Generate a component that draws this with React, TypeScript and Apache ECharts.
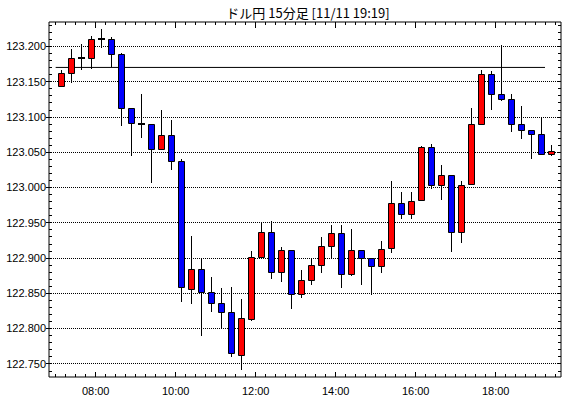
import React, { useEffect, useRef } from "react";
import * as echarts from "echarts";

const TITLE = "ドル円 15分足 [11/11 19:19]";

const TIMES = [
  "07:00", "07:15", "07:30", "07:45", "08:00", "08:15", "08:30", "08:45", "09:00", "09:15",
  "09:30", "09:45", "10:00", "10:15", "10:30", "10:45", "11:00", "11:15", "11:30", "11:45",
  "12:00", "12:15", "12:30", "12:45", "13:00", "13:15", "13:30", "13:45", "14:00", "14:15",
  "14:30", "14:45", "15:00", "15:15", "15:30", "15:45", "16:00", "16:15", "16:30", "16:45",
  "17:00", "17:15", "17:30", "17:45", "18:00", "18:15", "18:30", "18:45", "19:00", "19:15",
];

const OPEN = [
  123.143, 123.162, 123.184, 123.183, 123.211, 123.211, 123.189, 123.112, 123.090, 123.090,
  123.054, 123.074, 123.038, 122.856, 122.884, 122.852, 122.836, 122.823, 122.763, 122.814,
  122.902, 122.937, 122.880, 122.911, 122.849, 122.869, 122.890, 122.917, 122.935, 122.877,
  122.911, 122.900, 122.888, 122.914, 122.978, 122.962, 122.982, 123.057, 123.003, 123.017,
  122.937, 123.005, 123.090, 123.160, 123.133, 123.125, 123.090, 123.081, 123.075, 123.047,
];
const CLOSE = [
  123.162, 123.184, 123.184, 123.210, 123.211, 123.189, 123.112, 123.091, 123.090, 123.054,
  123.074, 123.038, 122.859, 122.884, 122.852, 122.836, 122.823, 122.765, 122.815, 122.902,
  122.937, 122.880, 122.911, 122.849, 122.869, 122.890, 122.917, 122.935, 122.877, 122.911,
  122.900, 122.889, 122.913, 122.978, 122.962, 122.981, 123.057, 123.003, 123.017, 122.937,
  123.003, 123.090, 123.160, 123.133, 123.125, 123.090, 123.082, 123.075, 123.047, 123.051,
];
const LOW = [
  123.143, 123.148, 123.166, 123.168, 123.198, 123.170, 123.087, 123.044, 123.070, 123.006,
  123.054, 123.024, 122.838, 122.835, 122.790, 122.823, 122.799, 122.760, 122.741, 122.811,
  122.902, 122.870, 122.866, 122.827, 122.843, 122.862, 122.879, 122.900, 122.857, 122.875,
  122.862, 122.847, 122.879, 122.907, 122.955, 122.955, 122.982, 122.998, 122.982, 122.909,
  122.921, 123.005, 123.088, 123.109, 123.123, 123.079, 123.068, 123.040, 123.047, 123.044,
];
const HIGH = [
  123.166, 123.196, 123.203, 123.214, 123.224, 123.213, 123.191, 123.112, 123.132, 123.090,
  123.110, 123.095, 123.040, 122.931, 122.900, 122.873, 122.858, 122.859, 122.842, 122.910,
  122.949, 122.952, 122.916, 122.911, 122.883, 122.900, 122.930, 122.946, 122.947, 122.941,
  122.911, 122.900, 122.924, 123.009, 122.993, 122.993, 123.058, 123.062, 123.031, 123.017,
  123.009, 123.113, 123.167, 123.165, 123.202, 123.132, 123.116, 123.082, 123.099, 123.060,
];

// reference (horizontal) line
const REF_VALUE = 123.17;
const REF_FROM = "07:00";
const REF_TO = "19:14";

const Y_MIN = 122.7312;
const Y_MAX = 123.2344;
const Y_LABELS = [122.75, 122.8, 122.85, 122.9, 122.95, 123.0, 123.05, 123.1, 123.15, 123.2];

const X_MIN = "06:50";
const X_MAX = "19:38";
const X_LABELS = ["08:00", "10:00", "12:00", "14:00", "16:00", "18:00"];
const X_TICK_STEP_MIN = 15;
const Y_MINOR_STEP = 0.01;

const toMin = (s: string) => {
  const [h, m] = s.split(":").map(Number);
  return h * 60 + m;
};
const fmt = (v: number) => {
  const h = Math.floor(v / 60);
  const m = Math.round(v % 60);
  return String(h).padStart(2, "0") + ":" + String(m).padStart(2, "0");
};

export default function App() {
  const ref = useRef<HTMLDivElement>(null);
  useEffect(() => {
    if (!ref.current) return;
    const chart = echarts.init(ref.current, null, { renderer: "svg" });

    const xmin = toMin(X_MIN);
    const xmax = toMin(X_MAX);
    const xMinor: number[] = [];
    for (let t = toMin(TIMES[0]); t <= xmax; t += X_TICK_STEP_MIN) xMinor.push(t);
    const xMajor = X_LABELS.map(toMin);
    const yMinor: number[] = [];
    for (let k = Math.ceil(Y_MIN / Y_MINOR_STEP); k * Y_MINOR_STEP <= Y_MAX; k++) {
      yMinor.push(Math.round(k * Y_MINOR_STEP * 1000) / 1000);
    }

    const data = TIMES.map((t, i) => [toMin(t) + 7.5, OPEN[i], CLOSE[i], LOW[i], HIGH[i]]);

    const labelFont = {
      fontFamily: "'Liberation Sans', sans-serif",
      fontSize: 11,
      color: "#000",
    };

    const xBase = {
      type: "value" as const,
      min: xmin,
      max: xmax,
      axisLine: { show: false },
      splitLine: { show: false },
    };
    const yBase = {
      type: "value" as const,
      min: Y_MIN,
      max: Y_MAX,
      axisLine: { show: false },
      splitLine: { show: false },
    };

    chart.setOption({
      animation: false,
      backgroundColor: "#fff",
      graphic: [
        {
          type: "text",
          x: 308,
          y: 6,
          style: {
            text: TITLE,
            fill: "#000",
            font: "13px 'Noto Sans CJK JP', sans-serif",
            align: "center",
            verticalAlign: "top",
          },
        },
      ],
      grid: {
        left: 49,
        right: 9,
        top: 22,
        bottom: 21,
        show: true,
        borderColor: "#000",
        borderWidth: 1,
        backgroundColor: "#fff",
      },
      xAxis: [
        {
          ...xBase,
          position: "bottom",
          axisTick: { show: true, inside: true, length: 5, customValues: xMajor, lineStyle: { color: "#000" } },
          axisLabel: { show: true, customValues: xMajor, formatter: (v: number) => fmt(v), margin: 8, ...labelFont },
        },
        {
          ...xBase,
          position: "bottom",
          offset: 0,
          axisTick: { show: true, inside: true, length: 3, customValues: xMinor, lineStyle: { color: "#000" } },
          axisLabel: { show: false },
        },
        {
          ...xBase,
          position: "top",
          axisTick: { show: true, inside: true, length: 6, customValues: xMajor, lineStyle: { color: "#000" } },
          axisLabel: { show: false },
        },
        {
          ...xBase,
          position: "top",
          offset: 0,
          axisTick: { show: true, inside: true, length: 3, customValues: xMinor, lineStyle: { color: "#000" } },
          axisLabel: { show: false },
        },
      ],
      yAxis: [
        {
          ...yBase,
          position: "left",
          axisTick: { show: true, inside: false, length: 3, customValues: Y_LABELS, lineStyle: { color: "#000" } },
          axisLabel: { show: true, customValues: Y_LABELS, formatter: (v: number) => v.toFixed(3), margin: 3, ...labelFont },
          splitLine: { show: true, lineStyle: { color: "#000", width: 1, type: [1, 1] } },
        },
        {
          ...yBase,
          position: "left",
          offset: 0,
          axisTick: { show: true, inside: true, length: 3, customValues: yMinor, lineStyle: { color: "#000" } },
          axisLabel: { show: false },
        },
        {
          ...yBase,
          position: "right",
          axisTick: { show: true, inside: true, length: 3, customValues: yMinor, lineStyle: { color: "#000" } },
          axisLabel: { show: false },
        },
      ],
      series: [
        {
          type: "line",
          xAxisIndex: 0,
          yAxisIndex: 0,
          data: [
            [toMin(REF_FROM), REF_VALUE],
            [toMin(REF_TO), REF_VALUE],
          ],
          symbol: "none",
          lineStyle: { color: "#000", width: 1 },
          silent: true,
          z: 1,
        },
        {
          type: "custom",
          xAxisIndex: 0,
          yAxisIndex: 0,
          data,
          encode: { x: 0, y: [1, 2, 3, 4] },
          z: 2,
          renderItem: (params: any, api: any) => {
            const t = api.value(0);
            const o = api.value(1);
            const c = api.value(2);
            const l = api.value(3);
            const h = api.value(4);
            const pO = api.coord([t, o]);
            const pC = api.coord([t, c]);
            const pL = api.coord([t, l]);
            const pH = api.coord([t, h]);
            const x = Math.round(pO[0]) + 0.5;
            const yH = Math.round(pH[1]);
            const yL = Math.round(pL[1]);
            const top = Math.round(Math.min(pO[1], pC[1]));
            const bot = Math.round(Math.max(pO[1], pC[1]));
            const children: any[] = [
              {
                type: "line",
                shape: { x1: x, y1: yH, x2: x, y2: yL },
                style: { stroke: "#000", lineWidth: 1 },
              },
            ];
            if (bot - top < 1) {
              children.push({
                type: "rect",
                shape: { x: x - 3.5, y: top - 1, width: 7, height: 2 },
                style: { fill: "#000" },
              });
            } else {
              children.push({
                type: "rect",
                shape: { x: x - 3, y: top + 0.5, width: 6, height: bot - top },
                style: { fill: c > o ? "#ff0000" : "#0000ff", stroke: "#000", lineWidth: 1 },
              });
            }
            return { type: "group", children };
          },
        },
      ],
    });
    return () => chart.dispose();
  }, []);
  return (
    <div
      ref={ref}
      style={{ position: "absolute", left: 0, top: 0, width: 570, height: 398 }}
    />
  );
}
